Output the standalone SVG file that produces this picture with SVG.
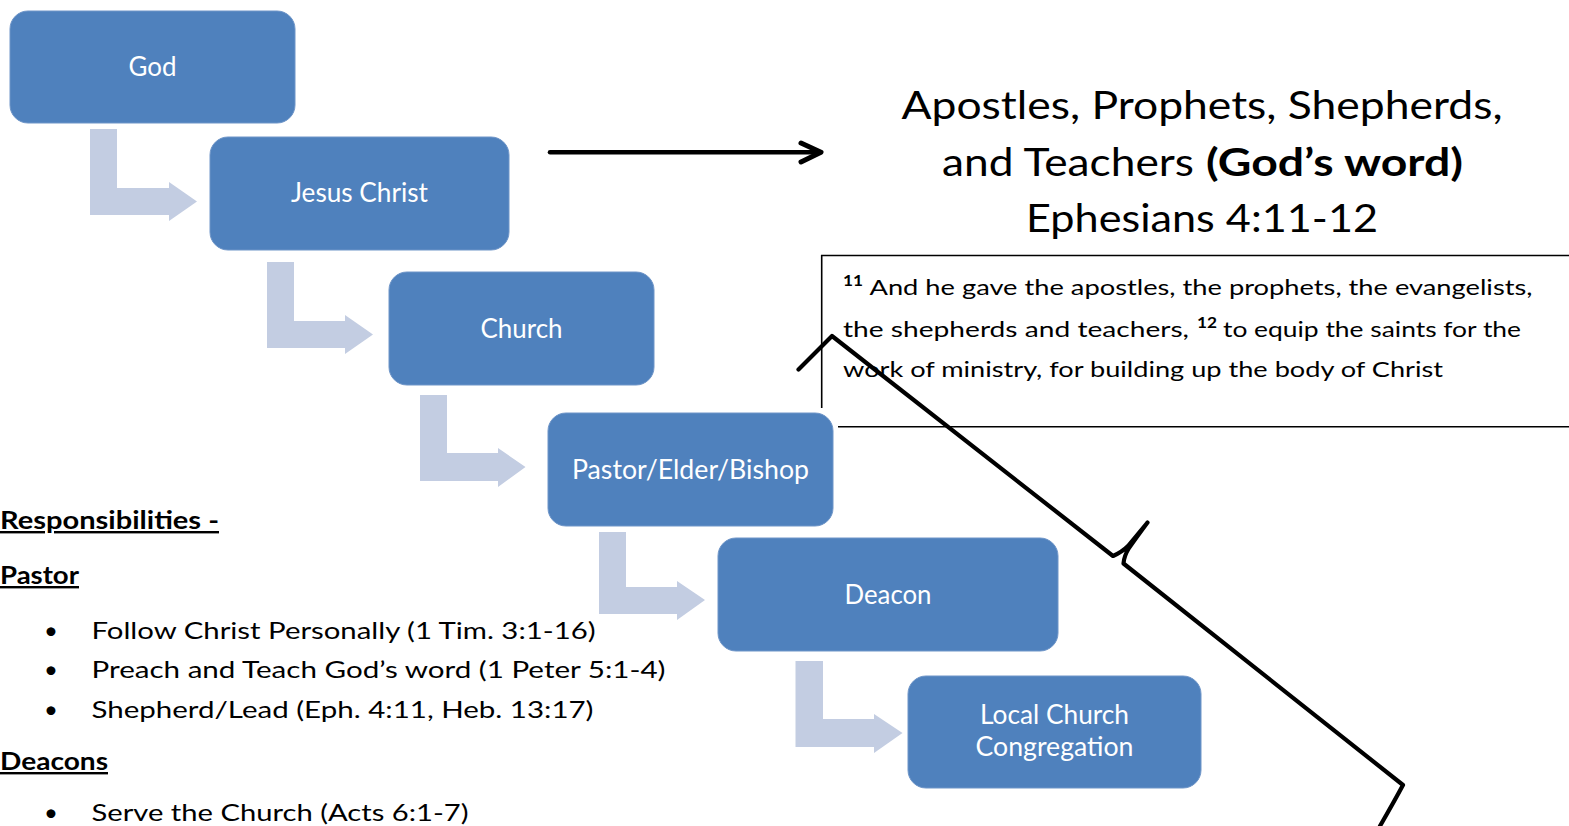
<svg xmlns="http://www.w3.org/2000/svg" width="1569" height="826" viewBox="0 0 1569 826">
<style>
.box{fill:#4F81BD;stroke:#6E95C8;stroke-width:1}
.bt{font-family:Lato,"Open Sans",sans-serif;font-size:26px;fill:#FFFFFF;text-anchor:middle}
.conn{fill:#C3CDE2}
.t{font-family:Lato,"Open Sans",sans-serif;fill:#000000}
.title{font-size:39px;text-anchor:start}
.body{font-size:24px}
.hd{font-size:24px;font-weight:bold;text-decoration:underline}
.vs{font-size:22px}
.sup{font-size:15px;font-weight:bold}
.ink{fill:none;stroke:#000000;stroke-linecap:round;stroke-linejoin:round}
</style>
<rect width="1569" height="826" fill="#FFFFFF"/>
<g id="connectors">
<path class="conn" d="M90,129 H117 V188 H169 V182 L197,201.5 L169,221 V215 H90 Z"/>
<path class="conn" d="M267,262 H294 V321 H345 V315 L373,334.5 L345,354 V348 H267 Z"/>
<path class="conn" d="M420,395 H447 V453 H498 V448 L525.5,467 L498,487 V481 H420 Z"/>
<path class="conn" d="M599,532 H626 V587 H677 V581 L705,600 L677,620 V614 H599 Z"/>
<path class="conn" d="M795.5,661 H823 V719 H874 V714 L902.5,733 L874,753 V747 H795.5 Z"/>
<g id="word-arrow">
<line class="ink" x1="550" y1="152.3" x2="820" y2="152.3" stroke-width="4.5"/>
<polyline class="ink" points="801,143 821,152.3 801,162" stroke-width="5"/>
</g>
</g>
<g id="node-god">
<rect class="box" x="10" y="11" width="285" height="112" rx="18"/>
<text class="bt" x="152.5" y="76" textLength="48" lengthAdjust="spacingAndGlyphs">God</text>
</g>
<g id="node-jesus">
<rect class="box" x="210" y="137" width="299" height="113" rx="18"/>
<text class="bt" x="359.5" y="202" textLength="137" lengthAdjust="spacingAndGlyphs">Jesus Christ</text>
</g>
<g id="node-church">
<rect class="box" x="389" y="272" width="265" height="113" rx="18"/>
<text class="bt" x="521.5" y="338" textLength="82" lengthAdjust="spacingAndGlyphs">Church</text>
</g>
<g id="node-pastor">
<rect class="box" x="548" y="413" width="285" height="113" rx="18"/>
<text class="bt" x="690.5" y="479" textLength="237" lengthAdjust="spacingAndGlyphs">Pastor/Elder/Bishop</text>
</g>
<g id="node-deacon">
<rect class="box" x="718" y="538" width="340" height="113" rx="18"/>
<text class="bt" x="888" y="604" textLength="87" lengthAdjust="spacingAndGlyphs">Deacon</text>
</g>
<g id="node-local">
<rect class="box" x="908" y="676" width="293" height="112" rx="18"/>
<text class="bt" x="1054.5" y="724" textLength="149" lengthAdjust="spacingAndGlyphs">Local Church</text>
<text class="bt" x="1054.5" y="756" textLength="158" lengthAdjust="spacingAndGlyphs">Congregation</text>
</g>
<g id="title">
<text class="t title" x="901.5" y="118.5" textLength="601" lengthAdjust="spacingAndGlyphs">Apostles, Prophets, Shepherds,</text>
<text class="t title" x="942" y="175.5" textLength="252" lengthAdjust="spacingAndGlyphs">and Teachers</text>
<text class="t title" x="1206" y="175.5" font-weight="bold" textLength="257" lengthAdjust="spacingAndGlyphs">(God’s word)</text>
<text class="t title" x="1026" y="231.5" textLength="352" lengthAdjust="spacingAndGlyphs">Ephesians 4:11-12</text>
</g>
<g id="verse-box">
<polyline points="821.7,408 821.7,255.5 1569,255.5" fill="none" stroke="#000000" stroke-width="1.6"/>
<line x1="838" y1="426.7" x2="1569" y2="426.7" stroke="#000000" stroke-width="1.6"/>
<text class="t sup" x="843" y="286" textLength="20" lengthAdjust="spacingAndGlyphs">11</text>
<text class="t vs" x="869.5" y="295" textLength="663" lengthAdjust="spacingAndGlyphs">And he gave the apostles, the prophets, the evangelists,</text>
<text class="t vs" x="843" y="336.5" textLength="346" lengthAdjust="spacingAndGlyphs">the shepherds and teachers,</text>
<text class="t sup" x="1197" y="327.5" textLength="20" lengthAdjust="spacingAndGlyphs">12</text>
<text class="t vs" x="1223" y="336.5" textLength="298" lengthAdjust="spacingAndGlyphs">to equip the saints for the</text>
<text class="t vs" x="843" y="376.5" textLength="600" lengthAdjust="spacingAndGlyphs">work of ministry, for building up the body of Christ</text>
</g>
<g id="brace">
<path class="ink" stroke-width="4.2" d="M798.5,369.5 L832,336 L1113,556 Q1122,552 1128,546 Q1138,534 1147.5,522.5 Q1136,538 1129,548 Q1124,556 1123.5,563.5 L1403,785 Q1395,800 1380,826"/>
</g>
<g id="responsibilities">
<text class="t hd" x="0" y="529" textLength="219" lengthAdjust="spacingAndGlyphs">Responsibilities -</text>
<text class="t hd" x="0" y="584" textLength="79" lengthAdjust="spacingAndGlyphs">Pastor</text>
<text class="t body" x="44" y="639">•</text>
<text class="t body" x="91.5" y="639" textLength="504" lengthAdjust="spacingAndGlyphs">Follow Christ Personally (1 Tim. 3:1-16)</text>
<text class="t body" x="44" y="678">•</text>
<text class="t body" x="91.5" y="678" textLength="574" lengthAdjust="spacingAndGlyphs">Preach and Teach God’s word (1 Peter 5:1-4)</text>
<text class="t body" x="44" y="717.5">•</text>
<text class="t body" x="91.5" y="717.5" textLength="502" lengthAdjust="spacingAndGlyphs">Shepherd/Lead (Eph. 4:11, Heb. 13:17)</text>
<text class="t hd" x="0" y="770" textLength="108" lengthAdjust="spacingAndGlyphs">Deacons</text>
<text class="t body" x="44" y="821">•</text>
<text class="t body" x="91.5" y="821" textLength="377" lengthAdjust="spacingAndGlyphs">Serve the Church (Acts 6:1-7)</text>
</g>
</svg>
